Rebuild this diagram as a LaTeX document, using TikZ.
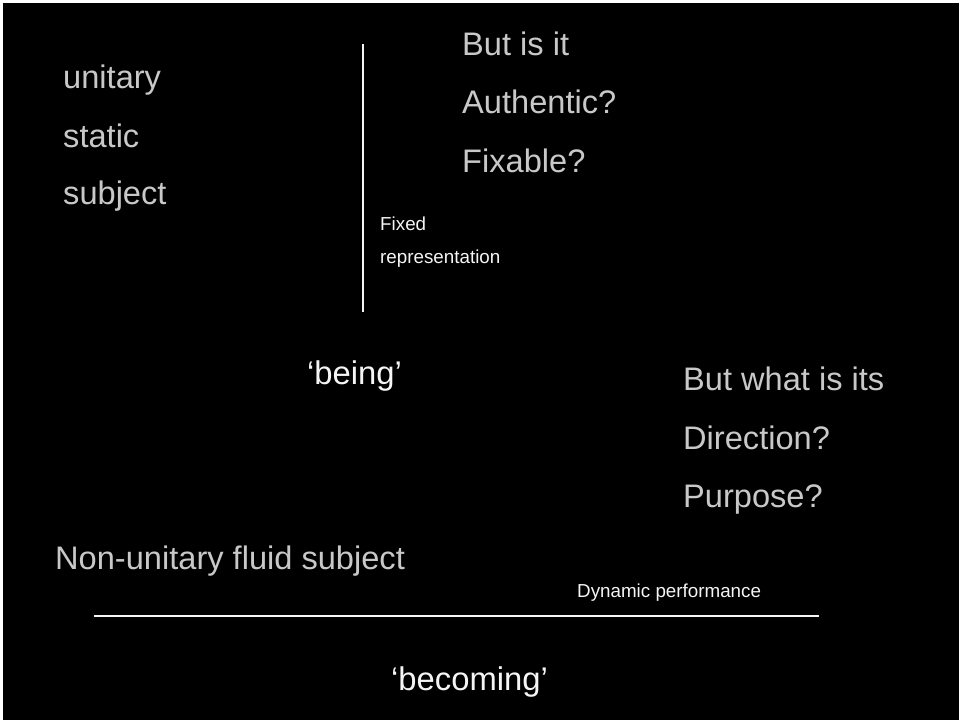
\documentclass[tikz,border=0pt]{standalone}
\usepackage{fontspec}
\setmainfont{Liberation Sans}
\definecolor{softgray}{RGB}{200,200,200}
\definecolor{brightw}{RGB}{245,245,245}
\begin{document}
\begin{tikzpicture}[x=1pt,y=-1pt,
  big/.style={anchor=base west,inner sep=0pt,text=softgray,font=\fontsize{32.6}{38}\selectfont},
  bigw/.style={anchor=base west,inner sep=0pt,text=brightw,font=\fontsize{32.8}{40}\selectfont},
  small/.style={anchor=base west,inner sep=0pt,text=brightw,font=\fontsize{18.8}{22}\selectfont},
  rule/.style={draw=brightw,line width=2pt}]
\useasboundingbox (0,0) rectangle (962,723);
\fill[white] (0,0) rectangle (962,723);
\fill[black] (3,3) rectangle (959,720);
% left column
\node[big] (unitary) at (63,88) {unitary};
\node[big] (static) at (63,147) {static};
\node[big] (subject) at (63,204) {subject};
% questions top
\node[big] (butis) at (462,55) {But is it};
\node[big] (auth) at (462,113) {Authentic?};
\node[big] (fix) at (462,172) {Fixable?};
\node[small] (fixed) at (380,230) {Fixed};
\node[small] (repr) at (380,263) {representation};
% vertical rule
\coordinate (vtop) at (363,44);
\coordinate (vbot) at (363,312);
\draw[rule] (vtop) -- (vbot);
\node[bigw] (being) at (307,384) {‘being’};
% questions bottom
\node[big] (butwhat) at (683,390) {But what is its};
\node[big] (dir) at (683,449) {Direction?};
\node[big] (purp) at (683,507) {Purpose?};
\node[big] (nonu) at (55,569) {Non-unitary fluid subject};
\node[small] (dyn) at (577,597) {Dynamic performance};
% horizontal rule
\coordinate (hl) at (94,615.5);
\coordinate (hr) at (819,615.5);
\draw[rule] (hl) -- (hr);
\node[bigw] (becoming) at (391,690) {‘becoming’};
\end{tikzpicture}
\end{document}
